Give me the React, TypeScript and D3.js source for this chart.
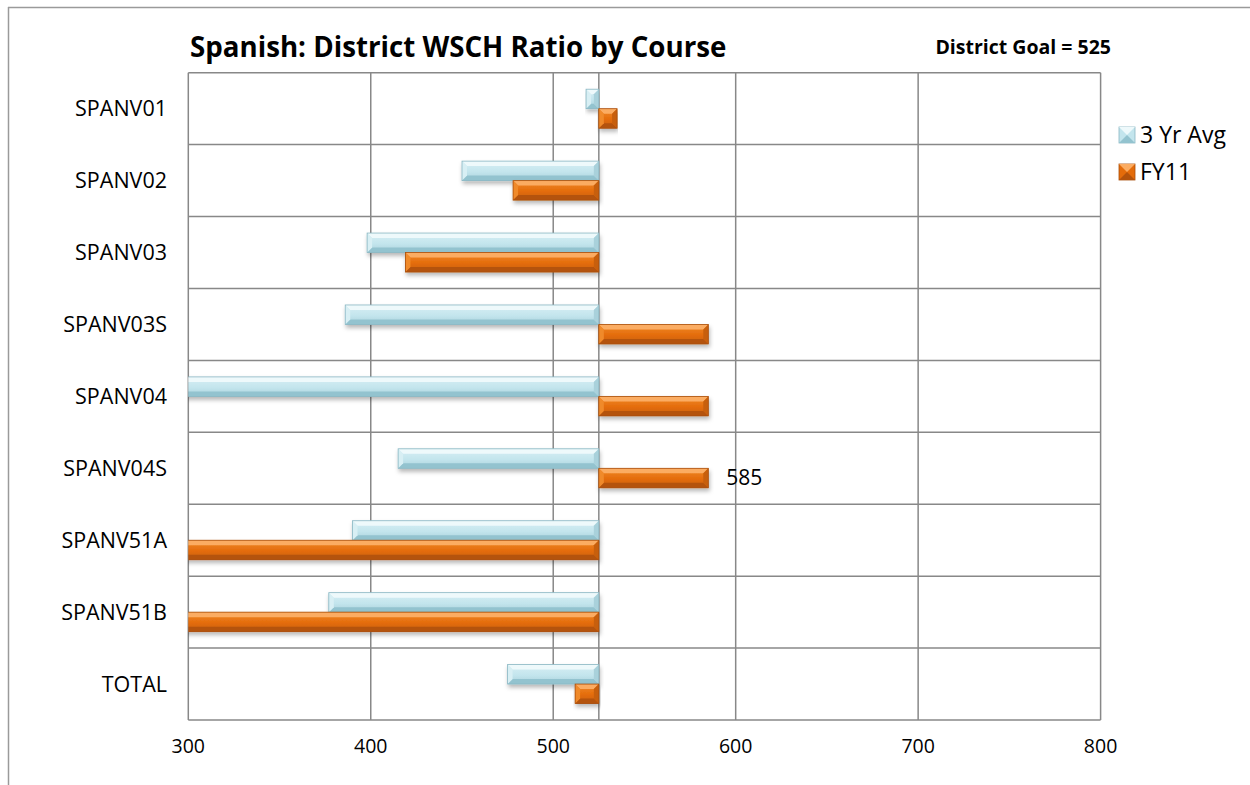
import React, { useEffect, useRef } from 'react';
import * as d3 from 'd3';

const categories = ['SPANV01', 'SPANV02', 'SPANV03', 'SPANV03S', 'SPANV04', 'SPANV04S', 'SPANV51A', 'SPANV51B', 'TOTAL'];
const avg3Yr = [518, 450, 398, 386, 290, 415, 390, 377, 475];
const fy11 = [535, 478, 419, 585, 585, 585, 270, 270, 512];
const xTicks = [300, 400, 500, 600, 700, 800];
const seriesNames = ['3 Yr Avg', 'FY11'];
const districtGoal = 525;

const WIDTH = 1250;
const HEIGHT = 785;
const FONT = "'Open Sans', sans-serif";

const palettes = [
  { top: '#eef9fb', mid: '#c3e5ed', bot: '#93c3cf', left: '#d8eff4', right: '#a9d1db', stroke: '#8ab7c3' },
  { top: '#fbac62', mid: '#e46c0a', bot: '#b4530b', left: '#f08a2c', right: '#c75f0c', stroke: '#a94f0c' },
];

const App: React.FC = () => {
  const svgRef = useRef<SVGSVGElement>(null);

  useEffect(() => {
    const svg = d3.select(svgRef.current);
    svg.selectAll('*').remove();

    const margin = { top: 72.7, right: 149.4, bottom: 65, left: 188.3 };
    const plotW = WIDTH - margin.left - margin.right;
    const plotH = HEIGHT - margin.top - margin.bottom;

    const x = d3.scaleLinear().domain([300, 800]).range([margin.left, margin.left + plotW]);
    const y = d3.scaleBand<string>().domain(categories).range([margin.top, margin.top + plotH]);
    const inner = d3.scaleBand<string>().domain(seriesNames).range([16.5, 55.5]);

    const defs = svg.append('defs');
    defs.append('clipPath').attr('id', 'plotClip')
      .append('rect')
      .attr('x', margin.left).attr('y', margin.top)
      .attr('width', plotW).attr('height', plotH);

    const shadow = defs.append('filter').attr('id', 'barShadow')
      .attr('x', '-5%').attr('y', '-30%').attr('width', '110%').attr('height', '180%');
    shadow.append('feDropShadow')
      .attr('dx', 1).attr('dy', 3).attr('stdDeviation', 2)
      .attr('flood-color', '#000').attr('flood-opacity', 0.28);

    palettes.forEach((p, i) => {
      const grad = defs.append('linearGradient').attr('id', `grad${i}`)
        .attr('x1', 0).attr('y1', 0).attr('x2', 0).attr('y2', 1);
      grad.append('stop').attr('offset', '0%').attr('stop-color', p.left);
      grad.append('stop').attr('offset', '55%').attr('stop-color', p.mid);
      grad.append('stop').attr('offset', '100%').attr('stop-color', p.right);
    });

    // outer frame (top + left only)
    svg.append('line').attr('x1', 8).attr('x2', WIDTH).attr('y1', 7.5).attr('y2', 7.5)
      .attr('stroke', '#9a9a9a').attr('stroke-width', 1.5);
    svg.append('line').attr('x1', 8.5).attr('x2', 8.5).attr('y1', 7).attr('y2', HEIGHT)
      .attr('stroke', '#9a9a9a').attr('stroke-width', 1.5);

    const grid = svg.append('g');
    // vertical gridlines
    grid.selectAll('.vgrid')
      .data(xTicks)
      .enter().append('line')
      .attr('x1', d => x(d)).attr('x2', d => x(d))
      .attr('y1', margin.top).attr('y2', margin.top + plotH)
      .attr('stroke', '#888').attr('stroke-width', 1.5);
    // horizontal band separators
    grid.selectAll('.hgrid')
      .data(categories)
      .enter().append('line')
      .attr('x1', margin.left).attr('x2', margin.left + plotW)
      .attr('y1', d => y(d)!).attr('y2', d => y(d)!)
      .attr('stroke', '#888').attr('stroke-width', 1.5);
    grid.append('line')
      .attr('x1', margin.left).attr('x2', margin.left + plotW)
      .attr('y1', margin.top + plotH).attr('y2', margin.top + plotH)
      .attr('stroke', '#888').attr('stroke-width', 1.5);
    // value axis crossing at goal
    grid.append('line')
      .attr('x1', x(districtGoal)).attr('x2', x(districtGoal))
      .attr('y1', margin.top).attr('y2', margin.top + plotH)
      .attr('stroke', '#888').attr('stroke-width', 1.5);

    const bars = svg.append('g').attr('clip-path', 'url(#plotClip)');
    const series = [avg3Yr, fy11];

    series.forEach((vals, si) => {
      const p = palettes[si];
      vals.forEach((v, ci) => {
        const xa = x(Math.min(v, districtGoal));
        const xb = x(Math.max(v, districtGoal));
        const yy = y(categories[ci])! + inner(seriesNames[si])!;
        const h = inner.bandwidth();
        const b = Math.min(5, (xb - xa) / 2, h / 2);
        const g = bars.append('g').attr('filter', 'url(#barShadow)');
        g.append('rect')
          .attr('x', xa).attr('y', yy).attr('width', xb - xa).attr('height', h)
          .attr('fill', `url(#grad${si})`);
        const poly = (pts: [number, number][], fill: string) =>
          g.append('polygon').attr('points', pts.map(q => q.join(',')).join(' ')).attr('fill', fill);
        poly([[xa, yy], [xb, yy], [xb - b, yy + b], [xa + b, yy + b]], p.top);
        poly([[xa, yy + h], [xb, yy + h], [xb - b, yy + h - b], [xa + b, yy + h - b]], p.bot);
        poly([[xa, yy], [xa + b, yy + b], [xa + b, yy + h - b], [xa, yy + h]], p.left);
        poly([[xb, yy], [xb - b, yy + b], [xb - b, yy + h - b], [xb, yy + h]], p.right);
        g.append('rect')
          .attr('x', xa).attr('y', yy).attr('width', xb - xa).attr('height', h)
          .attr('fill', 'none').attr('stroke', p.stroke).attr('stroke-width', 0.8);
      });
    });

    // data label
    svg.append('text')
      .attr('x', x(fy11[5]) + 18)
      .attr('y', y(categories[5])! + inner('FY11')! + inner.bandwidth() / 2)
      .attr('dy', '0.35em')
      .attr('font-family', FONT).attr('font-size', 21).attr('fill', '#000')
      .text(String(fy11[5]));

    // category labels
    svg.selectAll('.cat')
      .data(categories)
      .enter().append('text')
      .attr('x', 167)
      .attr('y', d => y(d)! + y.bandwidth() / 2)
      .attr('dy', '0.35em')
      .attr('text-anchor', 'end')
      .attr('font-family', FONT).attr('font-size', 21.5).attr('fill', '#000')
      .text(d => d);

    // x tick labels
    svg.selectAll('.tick')
      .data(xTicks)
      .enter().append('text')
      .attr('x', d => x(d))
      .attr('y', 753)
      .attr('text-anchor', 'middle')
      .attr('font-family', FONT).attr('font-size', 19.5).attr('fill', '#000')
      .text(d => d);

    // title
    svg.append('text')
      .attr('x', 190).attr('y', 57)
      .attr('font-family', FONT).attr('font-weight', 700).attr('font-size', 27.7).attr('fill', '#000')
      .text('Spanish: District WSCH Ratio by Course');

    svg.append('text')
      .attr('x', 1111).attr('y', 54)
      .attr('text-anchor', 'end')
      .attr('font-family', FONT).attr('font-weight', 700).attr('font-size', 19.5).attr('fill', '#000')
      .text(`District Goal = ${districtGoal}`);

    // legend
    const legend = svg.append('g').attr('transform', 'translate(1119,127)');
    seriesNames.forEach((name, i) => {
      const p = palettes[i];
      const ly = i * 37;
      const s = 16;
      const lg = legend.append('g').attr('transform', `translate(0,${ly})`);
      lg.append('rect').attr('width', s).attr('height', s).attr('fill', p.mid).attr('stroke', p.stroke).attr('stroke-width', 0.8);
      lg.append('polygon').attr('points', `0,0 ${s},0 ${s / 2},${s / 2}`).attr('fill', p.top);
      lg.append('polygon').attr('points', `0,${s} ${s},${s} ${s / 2},${s / 2}`).attr('fill', p.bot);
      lg.append('text')
        .attr('x', 21).attr('y', s / 2)
        .attr('dy', '0.35em')
        .attr('font-family', FONT).attr('font-size', 23).attr('fill', '#000')
        .text(name);
    });
  }, []);

  return (
    <div style={{ position: 'absolute', left: 0, top: 0, width: WIDTH, height: HEIGHT, background: '#fff' }}>
      <svg ref={svgRef} width={WIDTH} height={HEIGHT} style={{ display: 'block' }}></svg>
    </div>
  );
};

export default App;
